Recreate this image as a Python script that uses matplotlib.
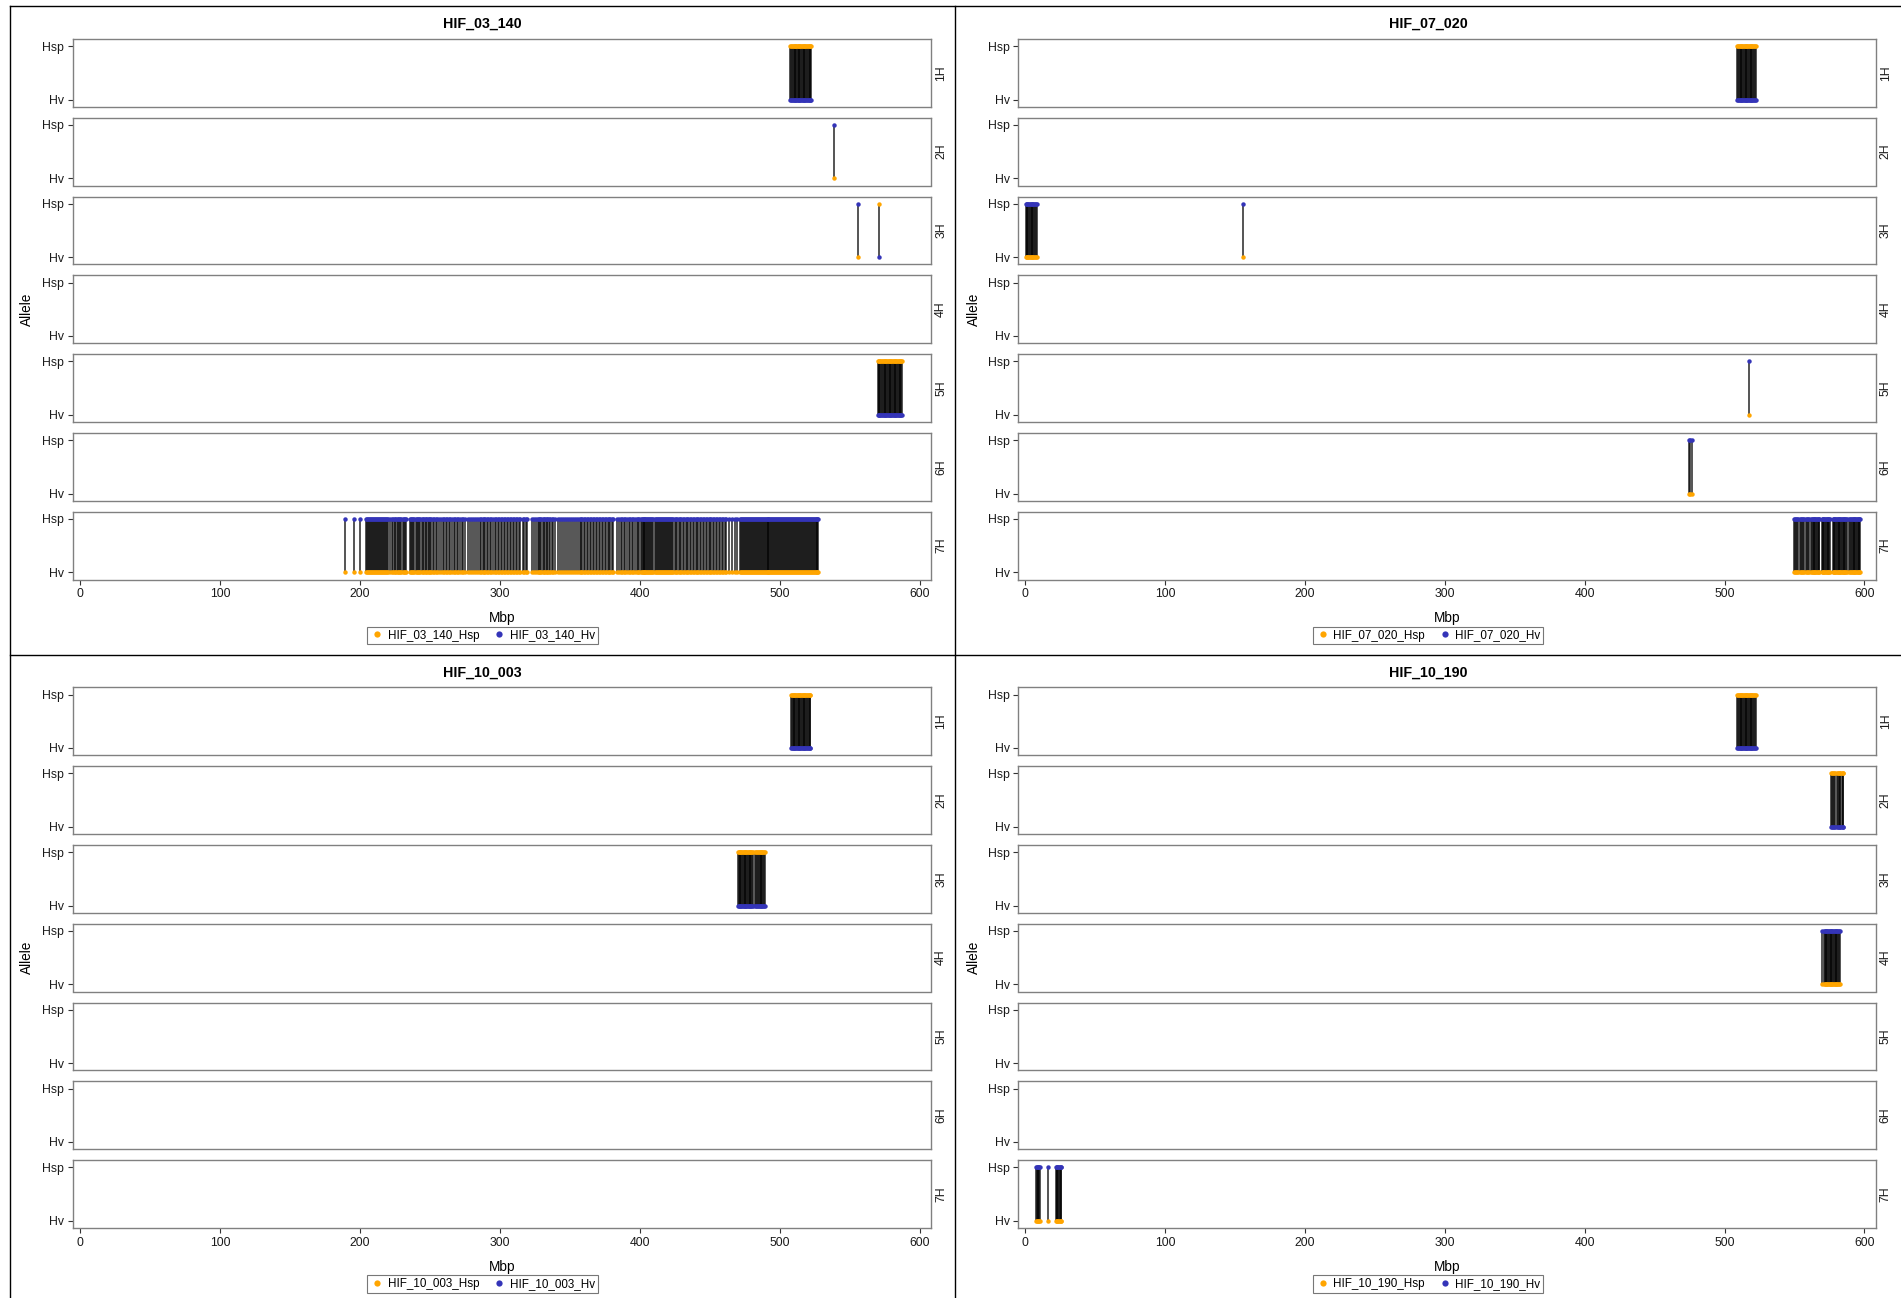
import numpy as np
import matplotlib
matplotlib.use("Agg")
import matplotlib.pyplot as plt
from matplotlib.lines import Line2D

plt.rcParams['font.family'] = ['Liberation Sans', 'DejaVu Sans']

W, H = 1901, 1298

# ---- data ----
hif_lines = ["HIF_03_140", "HIF_07_020", "HIF_10_003", "HIF_10_190"]
chromosomes = ["1H", "2H", "3H", "4H", "5H", "6H", "7H"]
allele_labels = ["Hv", "Hsp"]          # y = 0, 1

ORANGE = "#FFA500"   # *_Hsp line
BLUE = "#3434B8"     # *_Hv line

# marker positions (Mbp); allele of the *_Hsp line given separately (1 = Hsp, 0 = Hv)
h03_1H = [507.5, 508.1, 508.7, 509.3, 509.9, 510.5, 511.0, 511.6, 512.2, 512.8, 513.4, 514.0,
          514.6, 515.2, 515.8, 516.4, 517.0, 517.6, 518.2, 518.8, 519.4, 520.0, 520.6, 521.2,
          521.8, 522.3]
h03_2H = [539.0]
h03_3H_a = [556.0]
h03_3H_b = [570.5]
h03_5H = [570.0, 570.6, 571.2, 571.8, 572.4, 573.0, 573.6, 574.2, 574.8, 575.4, 576.0, 576.6,
          577.2, 577.8, 578.4, 579.0, 579.6, 580.2, 580.8, 581.4, 582.0, 582.6, 583.2, 583.8,
          584.4, 585.0, 585.6, 586.2, 586.8, 587.4]
h03_7H = [189.0, 195.7, 200.0,
          204.5, 205.3, 206.0, 206.6, 207.4, 208.1, 208.8, 209.3, 210.2, 210.9, 211.5, 212.3,
          213.0, 213.8, 214.4, 215.1, 215.9, 216.6, 217.2, 218.0, 218.7, 219.4, 220.1,
          221.8, 222.9, 223.6, 224.7, 225.3, 226.4, 227.1, 227.9, 228.8, 229.5, 230.6, 231.4,
          232.2, 233.0,
          235.6, 236.3, 237.2, 238.1, 238.7, 239.9, 240.6, 241.3, 242.5, 243.2, 244.0, 245.1,
          245.8, 246.9, 247.5, 248.6, 249.4, 250.3, 251.0, 251.9,
          253.0, 254.4, 255.1, 256.7, 257.8, 259.2, 260.0, 261.5, 262.3, 263.8, 264.6, 265.9,
          267.2, 268.0, 269.5, 270.3, 271.8, 272.6, 273.9,
          275.3, 277.0, 278.4, 280.1, 281.2, 282.9, 284.3, 285.6,
          286.8, 287.6, 288.9, 289.7, 291.0, 291.8, 293.1, 293.9, 295.2, 296.4, 297.1, 298.5,
          299.3, 300.6, 301.4, 302.8, 303.5, 304.9, 305.7, 307.0, 307.8, 309.2, 310.0, 311.3,
          312.1, 313.4, 314.3,
          316.5, 317.4, 318.3, 319.2, 322.8, 324.6, 326.0,
          327.1, 327.9, 328.8, 329.6, 330.5, 331.4, 332.2, 333.3, 334.0, 335.2, 336.1, 337.3,
          338.0, 339.4, 341.2, 342.9, 344.1, 345.8, 347.3, 348.6, 350.2, 351.4, 353.0, 354.1,
          355.7, 356.9, 358.1, 359.0, 360.2, 361.1, 362.3, 363.2, 364.4, 365.3, 366.5, 367.2,
          368.4, 369.3, 370.6, 371.4, 372.7, 373.5, 374.8, 375.6, 376.9, 377.7, 378.9, 379.8,
          380.6,
          383.8, 385.0, 386.4, 387.3, 388.7, 389.6, 391.0, 392.2, 393.1, 394.5, 395.3, 396.8,
          397.6, 398.9, 399.7,
          400.5, 401.2, 401.9, 402.6, 403.3, 404.0, 404.7, 405.4, 406.1, 406.8, 407.5, 408.3,
          409.0, 409.7, 410.5, 411.2, 411.9, 412.6, 413.4, 414.1, 414.8, 415.6, 416.3, 417.0,
          417.7, 418.5, 419.2, 419.9, 420.7, 421.4, 422.2, 423.0, 423.7,
          424.9, 425.8, 426.6, 427.9, 428.7, 429.6, 430.8, 431.6, 432.9, 433.7, 434.5, 435.8,
          436.6, 437.9, 438.7, 440.0, 440.8, 441.7, 443.0, 443.8, 445.1, 445.9, 447.2, 448.0,
          449.3, 450.1, 451.0, 452.3, 453.1, 454.4, 455.2, 456.5, 457.3, 458.6, 459.4, 460.7,
          461.5,
          463.8, 466.0, 467.9, 469.6,
          471.6, 472.3, 473.0, 473.7, 474.4, 475.1, 475.8, 476.5, 477.2, 477.9, 478.6, 479.3,
          480.0, 480.7, 481.4, 482.1, 482.8, 483.5, 484.2, 484.9, 485.6, 486.3, 487.0, 487.7,
          488.4, 489.1, 489.8, 490.5, 491.2, 491.9, 492.6, 493.3, 494.0, 494.7, 495.4, 496.1,
          496.8, 497.5, 498.2, 498.9, 499.6, 500.3, 501.0, 501.7, 502.4, 503.1, 503.8, 504.5,
          505.2, 505.9, 506.6, 507.3, 508.0, 508.7, 509.4, 510.1, 510.8, 511.5, 512.2, 512.9,
          513.6, 514.3, 515.0, 515.7, 516.4, 517.1, 517.8, 518.5, 519.2, 519.9, 520.6, 521.3,
          522.0, 522.7, 523.4, 524.1, 524.8, 525.5, 526.2, 526.9, 527.6]

h07_1H = [509.0, 509.6, 510.2, 510.8, 511.4, 512.0, 512.6, 513.2, 513.8, 514.4, 515.0, 515.6,
          516.2, 516.8, 517.4, 518.0, 518.6, 519.2, 519.8, 520.4, 521.0, 521.6, 522.2]
h07_3H_a = [0.2, 0.8, 1.4, 2.0, 2.6, 3.2, 3.8, 4.4, 5.0, 5.6, 6.2, 6.8, 7.4, 8.0]
h07_3H_b = [155.9]
h07_5H = [517.7]
h07_6H = [474.6, 475.4, 476.4]
h07_7H = [550.0, 550.6, 551.2, 551.8, 552.5, 554.2, 554.8, 555.4, 556.0, 556.7, 558.3, 558.9,
          559.5, 560.2, 561.8, 562.4, 563.0, 563.6, 564.2, 564.8, 565.4, 566.0, 566.6, 567.2,
          567.8, 569.5, 570.1, 570.7, 571.3, 571.9, 572.5, 573.1, 573.7, 574.3, 574.9, 575.6,
          577.3, 577.9, 578.5, 579.1, 579.7, 580.3, 580.9, 581.5, 582.1, 582.7, 583.3, 583.9,
          584.5, 585.1, 585.7, 586.3, 586.9, 587.6, 589.2, 589.8, 590.4, 591.0, 591.6, 592.2,
          592.8, 593.4, 594.0, 594.6, 595.2, 595.8, 596.4, 597.0]

h10a_1H = [508.0, 508.6, 509.2, 509.8, 510.4, 511.0, 511.6, 512.2, 512.8, 513.4, 514.0, 514.6,
           515.2, 515.8, 516.4, 517.0, 517.6, 518.2, 518.8, 519.4, 520.0, 520.6, 521.2, 521.8]
h10a_3H = [470.0, 470.6, 471.2, 471.8, 472.4, 473.0, 473.6, 474.2, 474.8, 475.4, 476.0, 476.6,
           477.2, 477.8, 478.4, 479.0, 479.6, 480.2, 480.8, 482.0, 483.2, 483.8, 484.4, 485.0,
           485.6, 486.2, 486.8, 487.4, 488.0, 488.6, 489.3]

h10b_1H = [509.0, 509.6, 510.2, 510.8, 511.4, 512.0, 512.6, 513.2, 513.8, 514.4, 515.0, 515.6,
           516.2, 516.8, 517.4, 518.0, 518.6, 519.2, 519.8, 520.4, 521.0, 521.6, 522.2]
h10b_2H = [576.1, 576.7, 577.7, 578.6, 579.2, 580.1, 581.0, 581.6, 582.2, 582.8, 583.7, 584.4,
           584.9]
h10b_4H = [569.8, 571.0, 571.6, 572.2, 572.8, 573.4, 574.0, 574.6, 575.2, 575.8, 576.4, 577.0,
           577.6, 578.2, 578.8, 579.4, 580.0, 580.6, 581.2, 581.8, 582.3]
h10b_7H_a = [7.5, 8.1, 8.7, 9.3, 9.9, 10.5]
h10b_7H_b = [16.2]
h10b_7H_c = [21.7, 22.3, 22.9, 23.5, 24.1, 24.7, 25.3, 25.8]

# (chromosome, positions, allele of the *_Hsp line)
hif_data = {
    "HIF_03_140": [("1H", h03_1H, 1), ("2H", h03_2H, 0), ("3H", h03_3H_a, 0),
                   ("3H", h03_3H_b, 1), ("5H", h03_5H, 1), ("7H", h03_7H, 0)],
    "HIF_07_020": [("1H", h07_1H, 1), ("3H", h07_3H_a, 0), ("3H", h07_3H_b, 0),
                   ("5H", h07_5H, 0), ("6H", h07_6H, 0), ("7H", h07_7H, 0)],
    "HIF_10_003": [("1H", h10a_1H, 1), ("3H", h10a_3H, 1)],
    "HIF_10_190": [("1H", h10b_1H, 1), ("2H", h10b_2H, 1), ("4H", h10b_4H, 0),
                   ("7H", h10b_7H_a, 0), ("7H", h10b_7H_b, 0), ("7H", h10b_7H_c, 0)],
}

xticks = [0, 100, 200, 300, 400, 500, 600]

# ---- layout (pixels) ----
col_left = [73, 1018.4]
col_right = [931, 1875.6]
row_top = [39, 687.4]
pitch, fh = 78.8, 67.7
sub_center = [482.5, 1428]
title_y = [24, 673]
mbp_y = [618, 1267]
legend_y = [635.5, 1284]
allele_x = [26.7, 973.6]

TICK_FS = 8.8
GREY = "#808080"

fig = plt.figure(figsize=(W / 100, H / 100), dpi=100)


def fx(x):
    return x / W


def fy(y):
    return 1 - y / H


for k, name in enumerate(hif_lines):
    r, c = divmod(k, 2)
    l, rr = col_left[c], col_right[c]
    for i, chrom in enumerate(chromosomes):
        top = row_top[r] + i * pitch
        ax = fig.add_axes([fx(l), fy(top + fh), (rr - l) / W, fh / H])
        ax.set_xlim(-5, 608)
        ax.set_ylim(-0.135, 1.135)
        ax.set_yticks([0, 1])
        ax.set_yticklabels(allele_labels)
        for s in ax.spines.values():
            s.set_color(GREY)
            s.set_linewidth(1.0)
        ax.tick_params(axis='both', length=3.8, width=0.8, color="#333333",
                       labelsize=TICK_FS, pad=2.5, labelcolor="#1a1a1a")
        ax.set_xticks(xticks)
        if i < len(chromosomes) - 1:
            ax.tick_params(axis='x', bottom=False, labelbottom=False)
        ax.annotate(chrom, xy=(1, 0.5), xycoords='axes fraction', xytext=(3, 0),
                    textcoords='offset points', rotation=90, ha='left', va='center',
                    fontsize=TICK_FS, color="#1a1a1a")
        for ch, pos, hsp_allele in hif_data[name]:
            if ch != chrom:
                continue
            pos = np.asarray(pos)
            ax.vlines(pos, 0, 1, colors='black', alpha=0.72, linewidth=1.3, zorder=2)
            ax.plot(pos, np.full(len(pos), hsp_allele), 'o', color=ORANGE, ms=3.2,
                    mew=0, zorder=3)
            ax.plot(pos, np.full(len(pos), 1 - hsp_allele), 'o', color=BLUE, ms=3.2,
                    mew=0, zorder=3)

    fig.text(fx(sub_center[c]), fy(title_y[r]), name, ha='center', va='center',
             fontsize=10.3, fontweight='bold')
    fig.text(fx((l + rr) / 2), fy(mbp_y[r]), "Mbp", ha='center', va='center', fontsize=9.8)
    mid = row_top[r] + (6 * pitch + fh) / 2
    fig.text(fx(allele_x[c]), fy(mid), "Allele", rotation=90, ha='center', va='center',
             fontsize=9.8)

    handles = [Line2D([], [], marker='o', ls='none', color=ORANGE, ms=4.5, mew=0,
                      label=name + "_Hsp"),
               Line2D([], [], marker='o', ls='none', color=BLUE, ms=4.5, mew=0,
                      label=name + "_Hv")]
    leg = fig.legend(handles=handles, loc='center',
                     bbox_to_anchor=(fx(sub_center[c]), fy(legend_y[r])), ncol=2,
                     fontsize=8.4, frameon=True, fancybox=False, borderpad=0.25,
                     handletextpad=0.3, columnspacing=1.1, handlelength=1.2,
                     borderaxespad=0)
    leg.get_frame().set_edgecolor("#555555")
    leg.get_frame().set_linewidth(0.8)

# frame lines separating the four plots
for xs, ys in [([10, 10], [6, H]), ([955, 955], [6, H]), ([10, W], [6, 6]),
               ([10, W], [655, 655])]:
    fig.add_artist(Line2D([fx(v) for v in xs], [fy(v) for v in ys],
                          transform=fig.transFigure, color='black', lw=1.0))

fig.savefig("out.png", dpi=100)
